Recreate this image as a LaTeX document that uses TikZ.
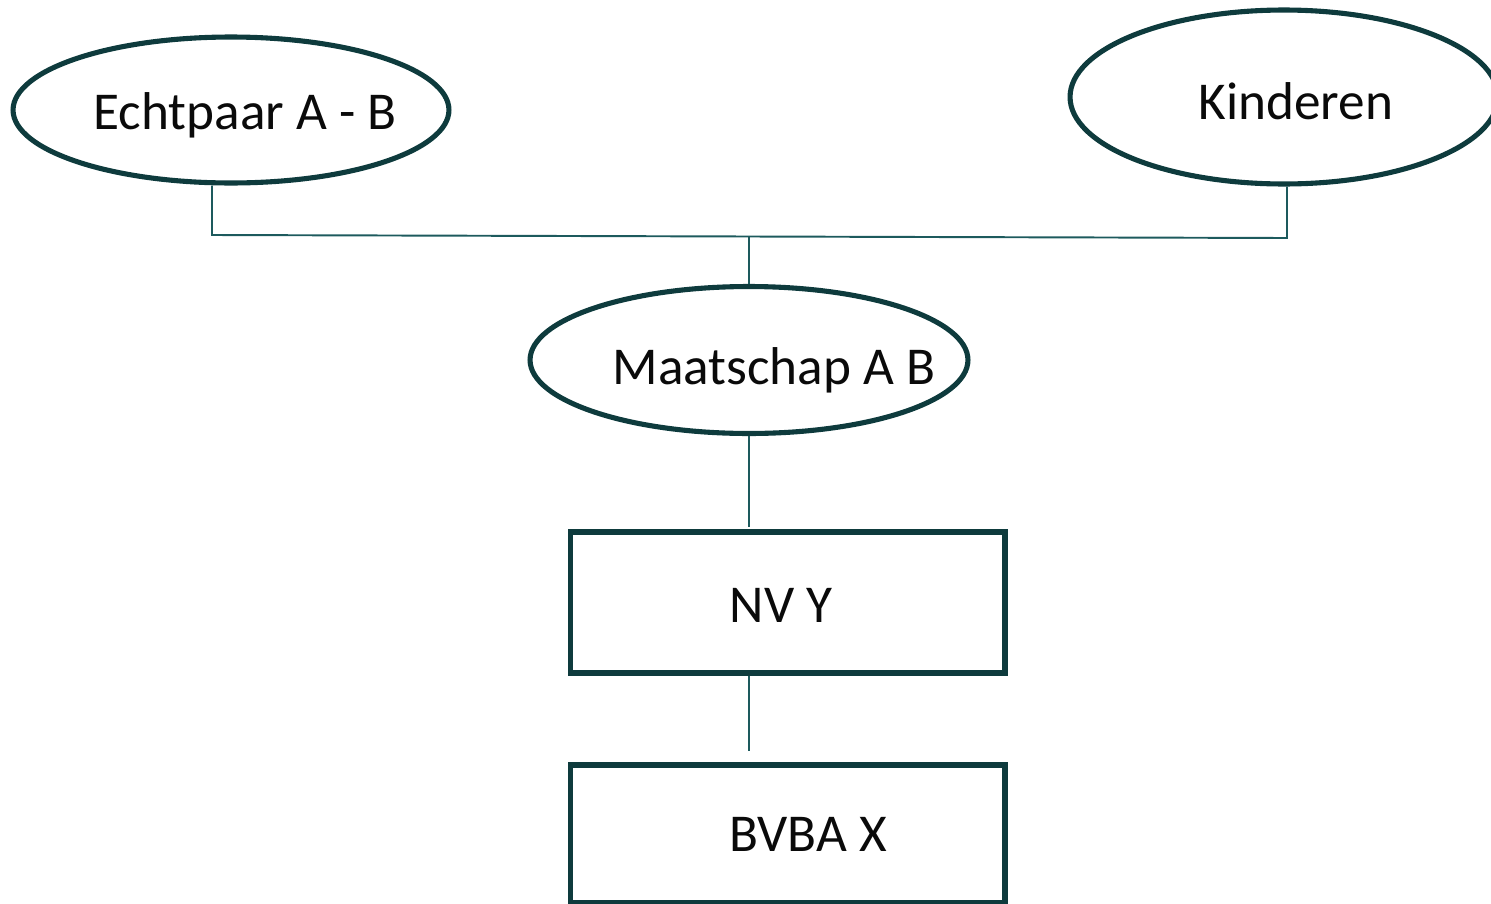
\documentclass[tikz,border=0pt]{standalone}
\usepackage{fontspec}
\setmainfont{Carlito}
\usetikzlibrary{shapes.geometric}
\definecolor{edge}{HTML}{0E3B3D}
\definecolor{link}{HTML}{1D5A5D}
\definecolor{ink}{HTML}{0A0A0A}
\tikzset{
  entity/.style={ellipse, draw=edge, line width=2.9pt, inner sep=0pt},
  company/.style={rectangle, draw=edge, line width=2.9pt, inner sep=0pt,
                  minimum width=8.7cm},
  caption/.style={text=ink, font=\fontsize{30.3}{36}\selectfont, inner sep=0pt},
  link/.style={draw=link, line width=1.1pt}
}
\begin{document}
\begin{tikzpicture}[x=0.02cm, y=-0.02cm]
  \useasboundingbox (0,0) rectangle (1491,903);
  \clip (0,0) rectangle (1491,903);

  % shareholders
  \node[entity, minimum width=8.72cm, minimum height=2.92cm] (couple) at (231,110) {};
  \node[entity, minimum width=8.56cm, minimum height=3.48cm] (kids) at (1284,97) {};
  \node[caption] (coupleT) at (245,115) {Echtpaar A - B};
  \node[caption] (kidsT) at (1296,101) {Kinderen};

  % partnership
  \node[entity, minimum width=8.76cm, minimum height=2.94cm] (firm) at (749,360) {};
  \node[caption] (firmT) at (774,370) {Maatschap A B};

  % companies
  \node[company, minimum height=2.82cm] (nv) at (787.5,602.5) {};
  \node[caption] (nvT) at (781,605) {NV Y};
  \node[company, minimum height=2.76cm] (bvba) at (787.5,834) {};
  \node[caption] (bvbaT) at (808,834) {BVBA X};

  % junction points of the ownership lines
  \coordinate (jl) at (212,235);
  \coordinate (jr) at (1287,238);
  \coordinate (jm) at (749,236.5);
  \coordinate (nvIn) at (749,527);
  \coordinate (bvbaIn) at (749,751);

  \draw[link] (couple.south -| jl) -- (jl) -- (jr) -- (kids.south -| jr);
  \draw[link] (jm) -- (firm.north);
  \draw[link] (firm.south) -- (nvIn);
  \draw[link] (nv.south -| bvbaIn) -- (bvbaIn);
\end{tikzpicture}
\end{document}
